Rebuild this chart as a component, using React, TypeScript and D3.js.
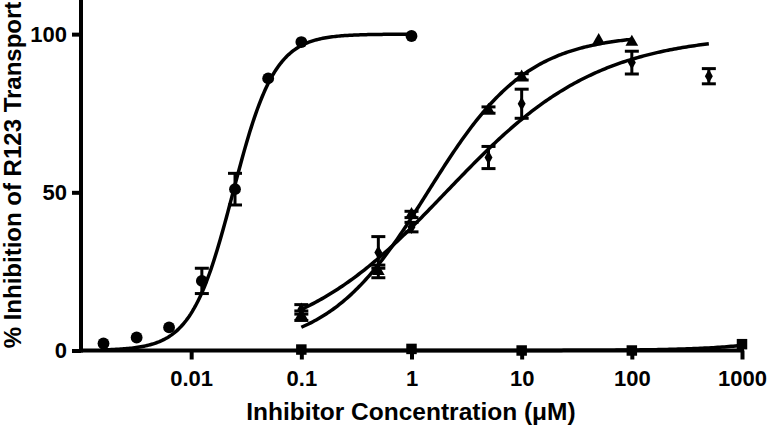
import * as d3 from "d3";
import { useRef, useEffect } from "react";

// concentrations (uM) and % inhibition
const circleX = [0.0016, 0.0032, 0.0063, 0.0125, 0.025, 0.05, 0.1, 1];
const circleY = [2.2, 4.1, 7.3, 22, 51, 86, 97.5, 99.4];
const circleErr = [0, 0, 0, 4, 5, 0, 0, 0];

const triangleX = [0.1, 0.5, 1, 5, 10, 50, 100];
const triangleY = [11, 25, 43, 76, 86.5, 98, 97.5];
const triangleErr = [1.5, 2, 1, 1, 1, 0, 0];

const diamondX = [0.1, 0.5, 1, 5, 10, 100, 500];
const diamondY = [13, 31, 39, 61, 78, 91, 86.7];
const diamondErr = [1.5, 5, 1.5, 3.5, 4.6, 3.6, 2.4];

const squareX = [0.1, 1, 10, 100, 1000];
const squareY = [0.3, 0.5, 0, 0, 2];

// sigmoid fit: [bottom, top, IC50, hill, xFrom, xTo]
const circleFit = [0, 100, 0.024, 2.3, 0.0015, 1];
const triangleFit = [0, 100, 1.4, 0.96, 0.1, 100];
const diamondFit = [0, 100, 2.05, 0.63, 0.1, 500];
const squareFit = [0, 100, 60000, 1, 0.1, 1000];

const xTicks = [0.01, 0.1, 1, 10, 100, 1000];
const yTicks = [0, 50, 100];

export default function App() {
  const svgRef = useRef(null);
  const width = 767;
  const height = 432;

  useEffect(() => {
    const svg = d3.select(svgRef.current);
    svg.selectAll("*").remove();

    const font = "'Liberation Sans', Arial, sans-serif";

    const x = d3.scaleLog().domain([0.001, 1000]).range([81, 742]);
    const y = d3.scaleLinear().domain([0, 110]).range([350.5, 2.5]);

    // fitted curves
    const line = d3
      .line()
      .x((d) => x(d[0]))
      .y((d) => y(d[1]));

    const fitPoints = (f) => {
      const [bot, top, ic50, n, from, to] = f;
      const lo = Math.log10(from);
      const hi = Math.log10(to);
      return d3.range(0, 201).map((i) => {
        const xv = Math.pow(10, lo + ((hi - lo) * i) / 200);
        return [xv, bot + (top - bot) / (1 + Math.pow(ic50 / xv, n))];
      });
    };

    [circleFit, triangleFit, diamondFit, squareFit].forEach((f) => {
      svg
        .append("path")
        .attr("d", line(fitPoints(f)))
        .attr("fill", "none")
        .attr("stroke", "#000")
        .attr("stroke-width", 3.5);
    });

    // axes
    const xAxis = svg
      .append("g")
      .attr("transform", `translate(0,${y(0)})`)
      .call(
        d3
          .axisBottom(x)
          .tickValues(xTicks)
          .tickFormat((d) => String(d))
          .tickSize(9)
          .tickPadding(11)
      );
    xAxis.select(".domain").attr("stroke-width", 4).attr("d", `M79,0H744`);
    xAxis.selectAll(".tick line").attr("stroke-width", 4);
    xAxis
      .selectAll("text")
      .style("font-family", font)
      .style("font-weight", "bold")
      .style("font-size", "22px");

    const yAxis = svg
      .append("g")
      .attr("transform", `translate(${x(0.001)},0)`)
      .call(d3.axisLeft(y).tickValues(yTicks).tickSize(9).tickPadding(5));
    yAxis.select(".domain").attr("stroke-width", 4).attr("d", `M0,${y(0) + 2}V0`);
    yAxis.selectAll(".tick line").attr("stroke-width", 4);
    yAxis
      .selectAll("text")
      .style("font-family", font)
      .style("font-weight", "bold")
      .style("font-size", "22px");

    // error bars
    const errBars = (xs, ys, es) => {
      const rows = xs.map((xv, i) => ({ xv, yv: ys[i], e: es[i] })).filter((d) => d.e > 0);
      const g = svg.append("g").attr("stroke", "#000").attr("stroke-width", 3);
      g.selectAll("line.v")
        .data(rows)
        .join("line")
        .attr("x1", (d) => x(d.xv))
        .attr("x2", (d) => x(d.xv))
        .attr("y1", (d) => y(d.yv - d.e))
        .attr("y2", (d) => y(d.yv + d.e));
      [-1, 1].forEach((s) => {
        g.selectAll(`line.c${s}`)
          .data(rows)
          .join("line")
          .attr("x1", (d) => x(d.xv) - 7)
          .attr("x2", (d) => x(d.xv) + 7)
          .attr("y1", (d) => y(d.yv + s * d.e))
          .attr("y2", (d) => y(d.yv + s * d.e));
      });
    };
    errBars(circleX, circleY, circleErr);
    errBars(triangleX, triangleY, triangleErr);
    errBars(diamondX, diamondY, diamondErr);

    // markers
    const markers = (xs, ys, type, size) => {
      svg
        .append("g")
        .selectAll("path")
        .data(xs.map((xv, i) => [xv, ys[i]]))
        .join("path")
        .attr("transform", (d) => `translate(${x(d[0])},${y(d[1])})`)
        .attr("d", d3.symbol().type(type).size(size)())
        .attr("fill", "#000");
    };
    markers(circleX, circleY, d3.symbolCircle, 110);
    markers(triangleX, triangleY, d3.symbolTriangle, 70);
    markers(diamondX, diamondY, d3.symbolDiamond, 55);
    markers(squareX, squareY, d3.symbolSquare, 110);

    // axis titles
    svg
      .append("text")
      .attr("x", 411)
      .attr("y", 420)
      .attr("text-anchor", "middle")
      .style("font-family", font)
      .style("font-weight", "bold")
      .style("font-size", "24.5px")
      .text("Inhibitor Concentration (\u03bcM)");

    svg
      .append("text")
      .attr("transform", "translate(21,175) rotate(-90)")
      .attr("text-anchor", "middle")
      .style("font-family", font)
      .style("font-weight", "bold")
      .style("font-size", "24px")
      .text("% Inhibition of R123 Transport");
  }, []);

  return (
    <div style={{ position: "fixed", left: 0, top: 0, background: "#fff" }}>
      <svg ref={svgRef} width={width} height={height} style={{ display: "block" }}></svg>
    </div>
  );
}
